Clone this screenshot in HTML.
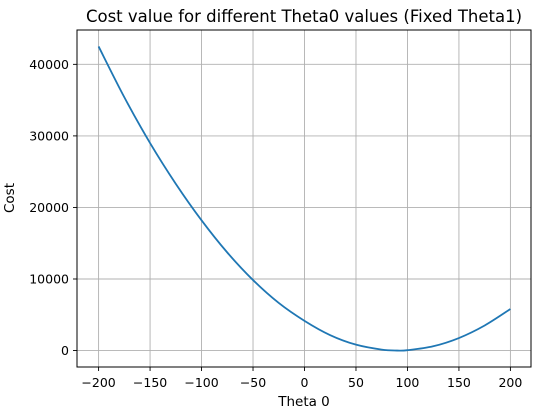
<!DOCTYPE html>
<html><head><meta charset="utf-8">
<style>
body{margin:0;background:#fff;}
svg{display:block;font-family:"DejaVu Sans","Liberation Sans",sans-serif;}
</style></head>
<body>
<svg id="chart" width="553" height="411" viewBox="0 0 553 411">
<text x="304" y="22" font-size="16.5" text-anchor="middle">Cost value for different Theta0 values (Fixed Theta1)</text>
<g id="grid"></g>
<g id="ticks"></g>
<path id="line" fill="none" stroke="#1f77b4" stroke-width="1.8"/>
<rect x="77" y="30" width="454" height="337" fill="none" stroke="#000" stroke-width="1"/>
<text x="304" y="406" font-size="13.5" text-anchor="middle">Theta 0</text>
<text transform="translate(14,198) rotate(-90)" font-size="13.5" text-anchor="middle">Cost</text>
</svg>
<script>
const theta0 = [-200,-175,-150,-125,-100,-75,-50,-25,0,25,50,75,90,100,125,150,175,200];
const cost = [42500,35400,29000,23300,18200,13700,9850,6650,4150,2150,820,130,0,50,600,1750,3500,5800];
const xTicks = [-200,-150,-100,-50,0,50,100,150,200];
const yTicks = [0,10000,20000,30000,40000];
const L=77,R=531,T=30,B=367;
const xMin=-220,xMax=220,yMin=-2300,yMax=44800;
function sx(v){return 78+(v-xMin)/(xMax-xMin)*(R-78);}
function sy(v){return B-(v-yMin)/(yMax-yMin)*(B-T);}
const NS="http://www.w3.org/2000/svg";
const grid=document.getElementById('grid'), ticks=document.getElementById('ticks');
function mk(tag,attrs,parent){const e=document.createElementNS(NS,tag);for(const k in attrs)e.setAttribute(k,attrs[k]);parent.appendChild(e);return e;}
xTicks.forEach(v=>{
  const x=sx(v);
  const g=mk('line',{x1:x,x2:x,y1:T,y2:B,stroke:'#b0b0b0','stroke-width':0.9},grid);
  
  
  const t=mk('line',{x1:x,x2:x,y1:B,y2:B+4,stroke:'#000','stroke-width':0.9},ticks);
  
  
  const l=mk('text',{x:x,y:B+20,'font-size':12.5,'text-anchor':'middle'},ticks);
  l.textContent=String(v).replace('-','\u2212');
  
  
});
yTicks.forEach(v=>{
  const y=sy(v);
  const g=mk('line',{x1:L,x2:R,y1:y,y2:y,stroke:'#b0b0b0','stroke-width':0.9},grid);
  
  
  const t=mk('line',{x1:L-4,x2:L,y1:y,y2:y,stroke:'#000','stroke-width':0.9},ticks);
  
  
  const l=mk('text',{x:L-8,y:y+4.5,'font-size':12.5,'text-anchor':'end'},ticks);
  l.textContent=v;
  
  
});
const pts=theta0.map((t,i)=>[sx(t),sy(cost[i])]);
let d='M'+pts[0][0]+','+pts[0][1];
for(let i=0;i<pts.length-1;i++){
  const p0=pts[Math.max(0,i-1)],p1=pts[i],p2=pts[i+1],p3=pts[Math.min(pts.length-1,i+2)];
  const c1=[p1[0]+(p2[0]-p0[0])/6,p1[1]+(p2[1]-p0[1])/6];
  const c2=[p2[0]-(p3[0]-p1[0])/6,p2[1]-(p3[1]-p1[1])/6];
  d+=' C'+c1[0]+','+c1[1]+' '+c2[0]+','+c2[1]+' '+p2[0]+','+p2[1];
}
document.getElementById('line').setAttribute('d',d);
</script>
</body></html>
